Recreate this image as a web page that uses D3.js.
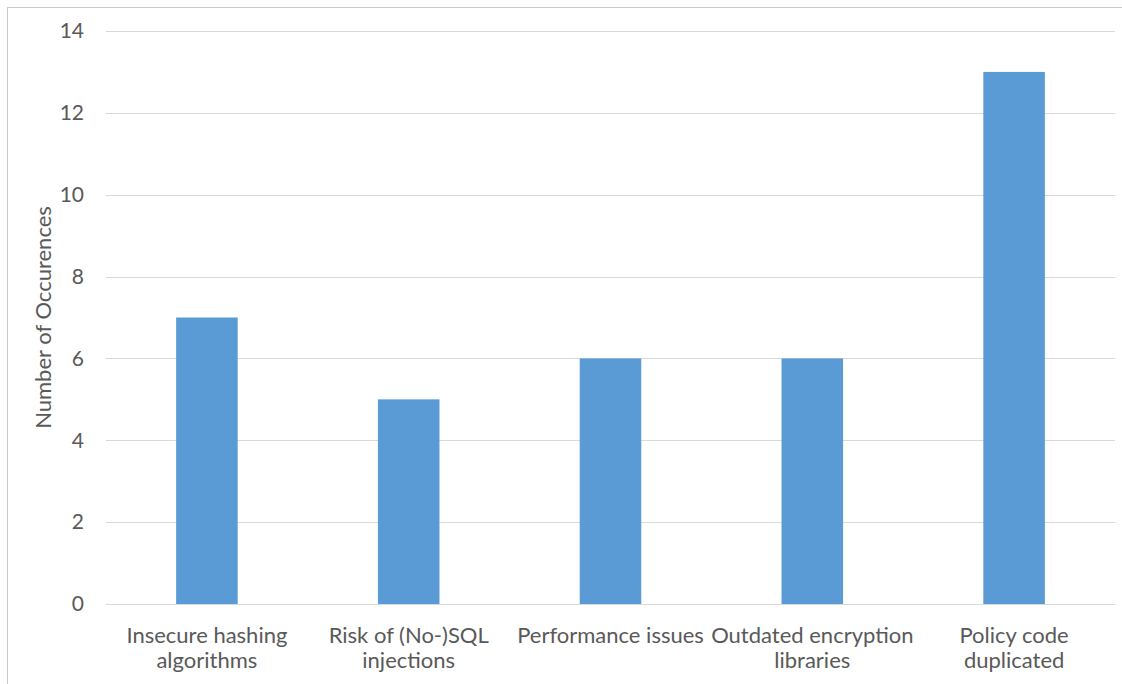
<!DOCTYPE html>
<html>
<head>
<meta charset="utf-8">
<script src="https://cdn.jsdelivr.net/npm/d3@7"></script>
<style>
  html, body { margin: 0; padding: 0; background: #fff; }
  svg { display: block; }
  text { font-family: Lato, "Open Sans", sans-serif; fill: #595959; }
</style>
</head>
<body>
<svg id="chart" width="1122" height="684"></svg>
<script>
// Issue categories (label lines) and how often each was found
const categories = [
  "Insecure hashing algorithms",
  "Risk of (No-)SQL injections",
  "Performance issues",
  "Outdated encryption libraries",
  "Policy code duplicated"
];
const categoryLines = [
  ["Insecure hashing", "algorithms"],
  ["Risk of (No-)SQL", "injections"],
  ["Performance issues"],
  ["Outdated encryption", "libraries"],
  ["Policy code", "duplicated"]
];
const occurrences = [7, 5, 6, 6, 13];
const yTicks = [0, 2, 4, 6, 8, 10, 12, 14];
const yTitle = "Number of Occurences";

const W = 1122, H = 684;
const plot = { left: 106, right: 1115, top: 31, bottom: 604 };

const svg = d3.select("#chart");

// outer frame
svg.append("rect")
  .attr("x", 7.5).attr("y", 7.5)
  .attr("width", W - 7).attr("height", H - 7)
  .attr("fill", "none").attr("stroke", "#c9c9c9").attr("stroke-width", 1);

const x = d3.scaleBand().domain(categories).range([plot.left, plot.right]).padding(0);
const y = d3.scaleLinear().domain([0, 14]).range([plot.bottom, plot.top]);
const barW = x.bandwidth() * 0.305;

// horizontal gridlines
svg.append("g").selectAll("line").data(yTicks).join("line")
  .attr("x1", plot.left).attr("x2", plot.right)
  .attr("y1", d => Math.round(y(d)) + 0.5).attr("y2", d => Math.round(y(d)) + 0.5)
  .attr("stroke", "#d9d9d9").attr("stroke-width", 1);

// y tick labels
svg.append("g").selectAll("text").data(yTicks).join("text")
  .attr("x", 84).attr("y", d => y(d))
  .attr("dy", "0.35em")
  .attr("text-anchor", "end")
  .style("font-size", "21px")
  .text(d => d);

// bars
svg.append("g").selectAll("rect").data(occurrences).join("rect")
  .attr("x", (d, i) => x(categories[i]) + x.bandwidth() / 2 - barW / 2)
  .attr("width", barW)
  .attr("y", d => y(d))
  .attr("height", d => y(0) - y(d))
  .attr("fill", "#5b9bd5");

// category labels
const lab = svg.append("g").selectAll("text").data(categories).join("text")
  .attr("text-anchor", "middle")
  .style("font-size", "22px")
  .attr("transform", d => `translate(${x(d) + x.bandwidth() / 2},643)`);
lab.each(function (d, i) {
  d3.select(this).selectAll("tspan").data(categoryLines[i]).join("tspan")
    .attr("x", 0).attr("dy", (t, j) => j === 0 ? 0 : 25)
    .text(t => t);
});

// y axis title
svg.append("text")
  .attr("transform", `translate(51,${(plot.top + plot.bottom) / 2}) rotate(-90)`)
  .attr("text-anchor", "middle")
  .style("font-size", "22px")
  .text(yTitle);
</script>
</body>
</html>
